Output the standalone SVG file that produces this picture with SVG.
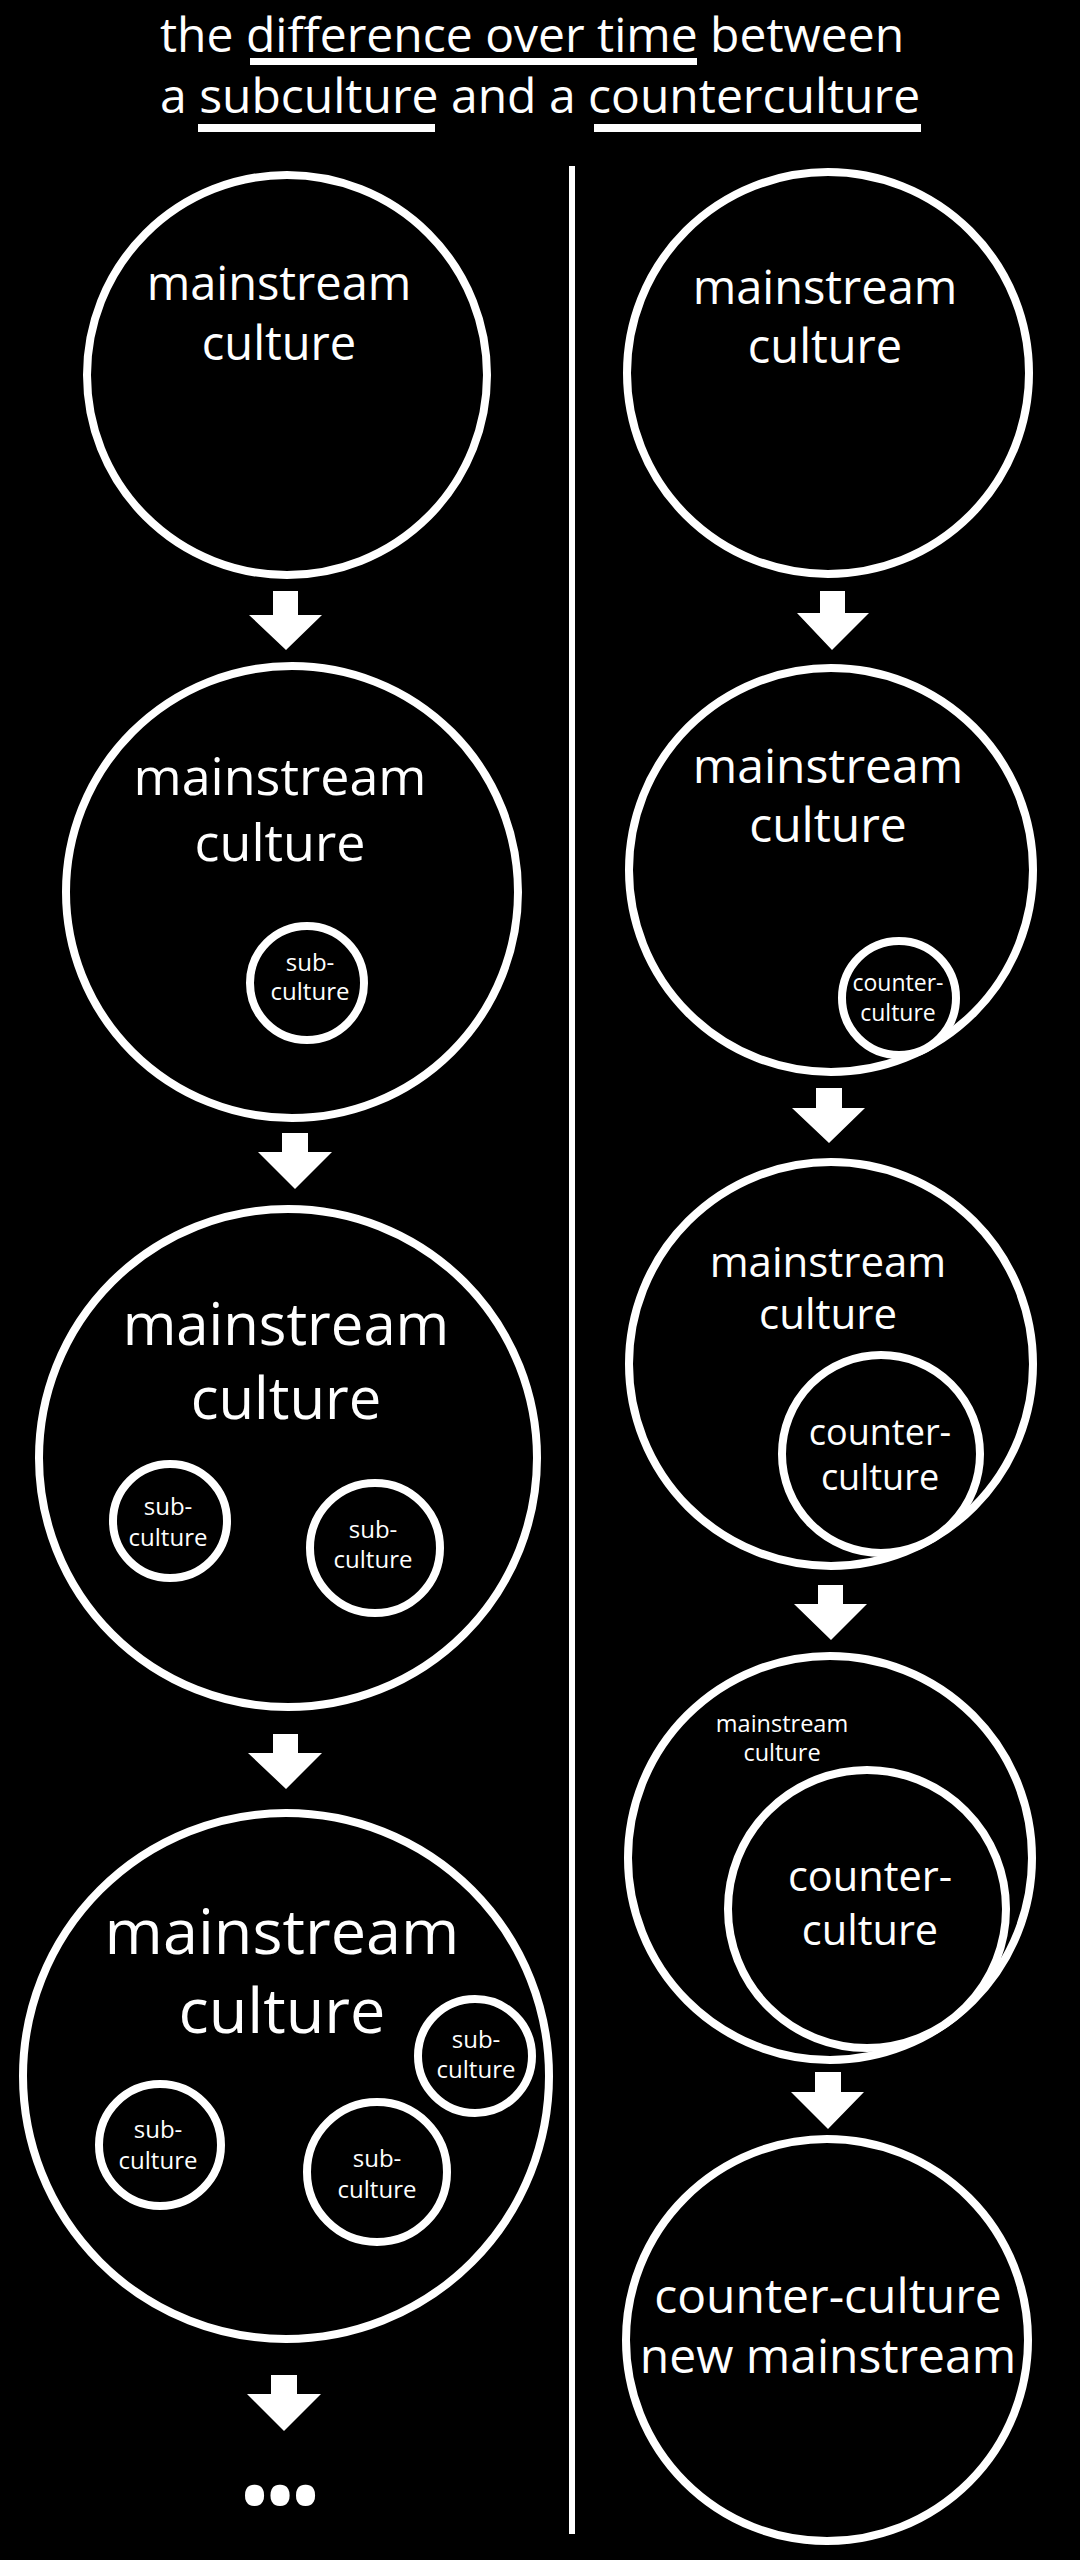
<svg xmlns="http://www.w3.org/2000/svg" width="1080" height="2560" viewBox="0 0 1080 2560">
<defs>
<style>
.c{fill:#000;stroke:#fff;stroke-width:8}
.t{fill:#fff;font-family:"Open Sans","Noto Sans","DejaVu Sans",sans-serif;text-anchor:middle}
.a{fill:#fff}
</style>
</defs>
<rect x="0" y="0" width="1080" height="2560" fill="#000"/>
<g id="title">
<text class="t" x="160" y="52" font-size="48" style="text-anchor:start">the difference over time between</text>
<text class="t" x="160" y="113" font-size="48" style="text-anchor:start">a subculture and a counterculture</text>
<rect x="250" y="58" width="447" height="7" fill="#fff"/>
<rect x="198" y="124" width="237" height="8" fill="#fff"/>
<rect x="594" y="124" width="327" height="8" fill="#fff"/>
</g>
<g id="divider"><rect x="569" y="166" width="6" height="2368" fill="#fff"/></g>
<g id="connectors">
<path class="a" d="M273 591H298V615H322L286 650L249 615H273Z"/>
<path class="a" d="M282 1133H308V1152H332L295 1189L258 1152H282Z"/>
<path class="a" d="M273 1734H298V1753H322L286 1789L248 1753H273Z"/>
<path class="a" d="M271 2375H297V2394H321L284 2431L247 2394H271Z"/>
<path class="a" d="M820 591H845V613H869L832 650L797 613H820Z"/>
<path class="a" d="M816 1088H842V1108H865L829 1143L792 1108H816Z"/>
<path class="a" d="M818 1585H843V1604H867L831 1640L794 1604H818Z"/>
<path class="a" d="M815 2072H841V2092H864L828 2129L791 2092H815Z"/>
</g>
<g id="L1">
<circle class="c" cx="287" cy="375" r="200"/>
<text class="t" x="279" y="300" font-size="47">mainstream</text>
<text class="t" x="279" y="360" font-size="47">culture</text>
</g>
<g id="L2">
<circle class="c" cx="292" cy="892" r="226"/>
<text class="t" x="280" y="795" font-size="52">mainstream</text>
<text class="t" x="280" y="861" font-size="52">culture</text>
<g id="L2s1">
<circle class="c" cx="307" cy="983" r="57"/>
<text class="t" x="310" y="971" font-size="24">sub-</text>
<text class="t" x="310" y="1000" font-size="24">culture</text>
</g>
</g>
<g id="L3">
<circle class="c" cx="288" cy="1458" r="249"/>
<text class="t" x="286" y="1345" font-size="58">mainstream</text>
<text class="t" x="286" y="1419" font-size="58">culture</text>
<g id="L3s1">
<circle class="c" cx="170" cy="1521" r="57"/>
<text class="t" x="168" y="1515" font-size="24">sub-</text>
<text class="t" x="168" y="1546" font-size="24">culture</text>
</g>
<g id="L3s2">
<circle class="c" cx="375" cy="1548" r="65"/>
<text class="t" x="373" y="1538" font-size="24">sub-</text>
<text class="t" x="373" y="1568" font-size="24">culture</text>
</g>
</g>
<g id="L4">
<circle class="c" cx="286" cy="2076" r="263"/>
<text class="t" x="282" y="1954" font-size="63">mainstream</text>
<text class="t" x="282" y="2033" font-size="63">culture</text>
<g id="L4s1">
<circle class="c" cx="475" cy="2056" r="57"/>
<text class="t" x="476" y="2048" font-size="24">sub-</text>
<text class="t" x="476" y="2078" font-size="24">culture</text>
</g>
<g id="L4s2">
<circle class="c" cx="160" cy="2145" r="61"/>
<text class="t" x="158" y="2138" font-size="24">sub-</text>
<text class="t" x="158" y="2169" font-size="24">culture</text>
</g>
<g id="L4s3">
<circle class="c" cx="377" cy="2172" r="70"/>
<text class="t" x="377" y="2167" font-size="24">sub-</text>
<text class="t" x="377" y="2198" font-size="24">culture</text>
</g>
</g>
<g id="ellipsis">
<text class="t" x="280" y="2520" font-size="68" font-weight="bold">•••</text>
</g>
<g id="R1">
<circle class="c" cx="828" cy="373" r="201"/>
<text class="t" x="825" y="304" font-size="47">mainstream</text>
<text class="t" x="825" y="363" font-size="47">culture</text>
</g>
<g id="R2">
<circle class="c" cx="831" cy="870" r="202"/>
<text class="t" x="828" y="783" font-size="48">mainstream</text>
<text class="t" x="828" y="842" font-size="48">culture</text>
<g id="R2c">
<circle class="c" cx="899" cy="998" r="57"/>
<text class="t" x="898" y="991" font-size="23">counter-</text>
<text class="t" x="898" y="1021" font-size="23">culture</text>
</g>
</g>
<g id="R3">
<circle class="c" cx="831" cy="1364" r="202"/>
<text class="t" x="828" y="1277" font-size="42">mainstream</text>
<text class="t" x="828" y="1329" font-size="42">culture</text>
<g id="R3c">
<circle class="c" cx="881" cy="1454" r="99"/>
<text class="t" x="880" y="1445" font-size="36">counter-</text>
<text class="t" x="880" y="1490" font-size="36">culture</text>
</g>
</g>
<g id="R4">
<circle class="c" cx="830" cy="1858" r="202"/>
<text class="t" x="782" y="1732" font-size="23.5">mainstream</text>
<text class="t" x="782" y="1761" font-size="23.5">culture</text>
<g id="R4c">
<circle class="c" cx="867" cy="1909" r="139"/>
<text class="t" x="870" y="1891" font-size="41.5">counter-</text>
<text class="t" x="870" y="1945" font-size="41.5">culture</text>
</g>
</g>
<g id="R5">
<circle class="c" cx="827" cy="2340" r="201"/>
<text class="t" x="828" y="2313" font-size="48">counter-culture</text>
<text class="t" x="828" y="2373" font-size="48">new mainstream</text>
</g>
</svg>
